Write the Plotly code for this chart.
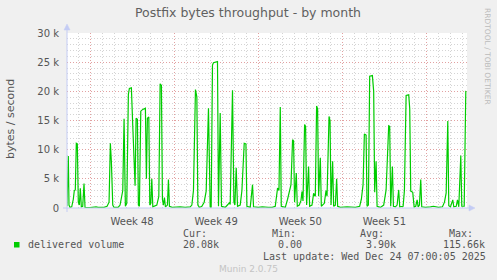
import plotly.graph_objects as go
from datetime import datetime, timedelta

# ---------------- data ----------------
TITLE = "Postfix bytes throughput - by month"
Y_TITLE = "bytes / second"
SERIES_NAME = "delivered volume"

BASE_TIME = datetime(2025, 11, 21, 0, 0)
# hours since BASE_TIME
hours = [2, 4.6, 6, 8, 11.4, 14.6, 16.6, 18.6, 20.6, 22.6, 24.6, 26.6, 28.6, 30.6, 33.4, 36, 38,
         48, 60, 64, 76, 82, 86, 88.6, 90.6, 93.4, 96, 104, 108, 111.4, 113.4, 116, 118.6, 121.4,
         124.6, 126.6, 130.6, 133.4, 136, 138, 140, 142.6, 144.6, 146.6, 149.4, 153.4, 158.6,
         160.6, 162.6, 165.4, 167.4, 169.4, 171.4, 173.4, 181.4, 185.4, 188, 190.6, 192.6, 194.6,
         196.6, 198.6, 202.6, 204.6, 206.6, 212, 228, 238, 248, 251.4, 254.6, 258.6, 261.4, 263.4,
         266.6, 271.4, 276, 280, 284.6, 288, 290, 292.6, 294.6, 300, 302.6, 304.6, 308, 310.6, 318,
         323.4, 326, 328, 332.6, 335.4, 337.4, 340, 342.6, 348, 351.4, 356, 359.4, 361.4, 368,
         372.6, 374.6, 384, 392, 404, 412, 418, 422.6, 425.4, 428, 430, 438, 442.6, 446.6, 449.4,
         452.6, 454.6, 456.6, 460, 462, 466, 469.4, 471.4, 473.4, 476.6, 478.6, 480.6, 484.6, 486.6,
         491.4, 494.6, 498, 500.6, 502.6, 504.6, 508, 510, 516, 519.4, 521.4, 525.4, 527.4, 529.4,
         532.6, 534.6, 538, 540.6, 542.6, 548, 561.4, 571.4, 578, 586.6, 590, 593.4, 596, 599.4,
         601.4, 604, 606.6, 612, 614.6, 616.6, 619.4, 621.4, 628, 634.6, 639.4, 644.6, 646.6, 648.6,
         652, 654, 658, 661.4, 664.6, 666.6, 673.4, 676, 679.4, 684.6, 686.6, 688.6, 692.6, 695.4,
         698.6, 701.4, 703.4, 706, 708.6, 710.6, 718, 728, 734, 744, 752, 756, 759.4, 762.6, 764.6,
         768, 772.6, 774.6, 779.4, 782, 784.6, 788.6, 790.6, 795.4, 798.6]
values = [300, 8900, 500, 100, 200, 1500, 3000, 3100, 11100, 11000, 1000, 500, 3400, 200, 300, 4200, 100,
          50, 200, 100, 100, 300, 1000, 11100, 8000, 500, 100, 100, 500, 2000, 3000, 15300, 300, 800,
          19500, 20500, 20600, 14000, 6000, 3800, 15400, 15200, 500, 300, 16600, 16900, 17100,
          5000, 15400, 15600, 500, 800, 5000, 200, 500, 2000, 21300, 21000, 1500, 500,
          1800, 200, 500, 4900, 300, 100, 200, 100, 200, 500, 3000, 20300, 19000, 500,
          100, 300, 1000, 2900, 17100, 200, 100, 24500, 24900, 25000, 25100, 300, 16300, 300, 100,
          600, 900, 600, 20200, 1000, 500, 6900, 300, 500, 3000, 11100, 11000, 300, 100,
          4000, 200, 100, 200, 100, 100, 300, 3400, 3000, 17300, 300, 100, 1500, 3100, 4000,
          11700, 11500, 1000, 6000, 300, 500, 1300, 2800, 1200, 14300, 14000, 500, 7100, 300,
          500, 2500, 2000, 17500, 17000, 2000, 8600, 300, 800, 3000, 2000, 15700, 15000, 500,
          8000, 300, 500, 5000, 300, 100, 200, 200, 100, 300, 1500, 4000, 12700, 12500,
          300, 500, 22600, 22700, 20000, 2700, 8000, 300, 100, 500, 3100, 14100, 14000, 300,
          7100, 300, 200, 500, 3100, 200, 300, 3000, 19300, 19400, 17000, 2900, 2700, 200,
          300, 1400, 200, 500, 4900, 200, 100, 200, 300, 100, 200, 1000, 2600, 14900, 400,
          200, 1400, 200, 300, 1400, 200, 9000, 300, 300, 20080]

X_START = "2025-11-21 02:00"
X_END = "2025-12-24 09:00"
week_starts = ["2025-11-23", "2025-11-30", "2025-12-07", "2025-12-14", "2025-12-21"]
week_label_pos = ["2025-11-26 12:00", "2025-12-03 12:00", "2025-12-10 12:00", "2025-12-17 12:00"]
week_labels = ["Week 48", "Week 49", "Week 50", "Week 51"]

y_ticks = [0, 5000, 10000, 15000, 20000, 25000, 30000]
y_tick_labels = ["0", "5 k", "10 k", "15 k", "20 k", "25 k", "30 k"]

stat_heads = ["Cur:", "Min:", "Avg:", "Max:"]
stat_vals = ["20.08k", "0.00", "3.90k", "115.66k"]
LAST_UPDATE = "Last update: Wed Dec 24 07:00:05 2025"
MUNIN_VER = "Munin 2.0.75"
RRD_CREDIT = "RRDTOOL / TOBI OETIKER"

# ---------------- layout constants ----------------
W, H = 497, 280
L, R, T, B = 67, 30, 33, 72
PW, PH = W - L - R, H - T - B
GREEN = "#00CC00"
AXIS_C = "#C4CCF4"
RED_GRID = "rgba(240,110,110,0.5)"
GRAY_GRID = "rgba(160,160,160,0.45)"
TXT = "#555555"


def px(x):
    return (x - L) / PW


def py(y):
    return (H - B - y) / PH


times = [BASE_TIME + timedelta(hours=h) for h in hours]

fig = go.Figure()
fig.add_trace(go.Scatter(x=times, y=values, mode="lines",
                         line=dict(color=GREEN, width=1.2), hoverinfo="skip",
                         showlegend=False, xaxis="x", yaxis="y"))
fig.add_trace(go.Scatter(x=[X_START, X_END], y=[None, None], mode="lines",
                         showlegend=False, hoverinfo="skip", xaxis="x2", yaxis="y"))

fig.update_layout(
    width=W, height=H,
    margin=dict(l=L, r=R, t=T, b=B),
    paper_bgcolor="#F0F0F0", plot_bgcolor="#FFFFFF",
    font=dict(family="DejaVu Sans", size=10, color=TXT),
    showlegend=False,
    xaxis=dict(type="date", range=[X_START, X_END], tickmode="array", tickvals=week_starts,
               showticklabels=False, ticks="", showgrid=True, gridcolor=RED_GRID,
               griddash="1px,2px", gridwidth=1, zeroline=False, showline=False,
               minor=dict(tick0="2025-11-21", dtick=86400000, showgrid=True,
                          gridcolor=GRAY_GRID, griddash="1px,2px", gridwidth=1)),
    xaxis2=dict(type="date", overlaying="x", anchor="y", side="bottom",
                range=[X_START, X_END], tickmode="array", tickvals=week_label_pos,
                ticktext=week_labels, showgrid=False, ticks="", zeroline=False,
                showline=False, ticklabelstandoff=6,
                tickfont=dict(family="DejaVu Sans", size=10, color=TXT)),
    yaxis=dict(range=[0, 30000], tickmode="array", tickvals=y_ticks, ticktext=y_tick_labels,
               showgrid=True, gridcolor=RED_GRID, griddash="1px,2px", gridwidth=1,
               zeroline=False, showline=False, ticks="", ticklabelstandoff=7,
               tickfont=dict(family="DejaVu Sans", size=10, color=TXT),
               minor=dict(dtick=1000, showgrid=True, gridcolor=GRAY_GRID,
                          griddash="1px,2px", gridwidth=1)),
)

shapes = []
# x axis line + arrow
shapes.append(dict(type="line", xref="paper", yref="paper", x0=px(63), x1=px(470),
                   y0=py(208), y1=py(208), line=dict(color=AXIS_C, width=1)))
shapes.append(dict(type="path", xref="paper", yref="paper",
                   path=f"M {px(469)} {py(205)} L {px(475)} {py(208)} L {px(469)} {py(211)} Z",
                   fillcolor=AXIS_C, line=dict(color=AXIS_C, width=0.5)))
# y axis line + arrow
shapes.append(dict(type="line", xref="paper", yref="paper", x0=px(67), x1=px(67),
                   y0=py(212), y1=py(29), line=dict(color=AXIS_C, width=1)))
shapes.append(dict(type="path", xref="paper", yref="paper",
                   path=f"M {px(64)} {py(30)} L {px(67)} {py(24)} L {px(70)} {py(30)} Z",
                   fillcolor=AXIS_C, line=dict(color=AXIS_C, width=0.5)))
# legend colour box
shapes.append(dict(type="rect", xref="paper", yref="paper", x0=px(14), x1=px(19.5),
                   y0=py(247.5), y1=py(242), fillcolor=GREEN, line=dict(width=0)))
fig.update_layout(shapes=shapes)

MONO = "DejaVu Sans Mono"
ann = []


def text(x, y, s, size=10, family=MONO, color=TXT, xanchor="left", angle=0):
    ann.append(dict(text=s, x=px(x), y=py(y), xref="paper", yref="paper",
                    xanchor=xanchor, yanchor="middle", showarrow=False, textangle=angle,
                    font=dict(family=family, size=size, color=color)))


text(248, 13, TITLE, size=12.5, family="DejaVu Sans", color="#606060", xanchor="center")
text(10, 119, Y_TITLE, size=11, family="DejaVu Sans", xanchor="center", angle=-90)
text(488, 56, RRD_CREDIT, size=7.5, family="DejaVu Sans", color="#BBBBBB",
     xanchor="center", angle=90)
text(26, 244.5, SERIES_NAME)
head_x = [181, 269.5, 358, 446.5]
val_x = [181, 276, 364, 441]
for hx, hs in zip(head_x, stat_heads):
    text(hx, 233, hs)
for vx, vs in zip(val_x, stat_vals):
    text(vx, 244.5, vs)
text(261, 256.5, LAST_UPDATE)
text(248, 269, MUNIN_VER, size=9, family="DejaVu Sans", color="#C4C4C4", xanchor="center")
fig.update_layout(annotations=ann)

fig.write_html("out.html")
